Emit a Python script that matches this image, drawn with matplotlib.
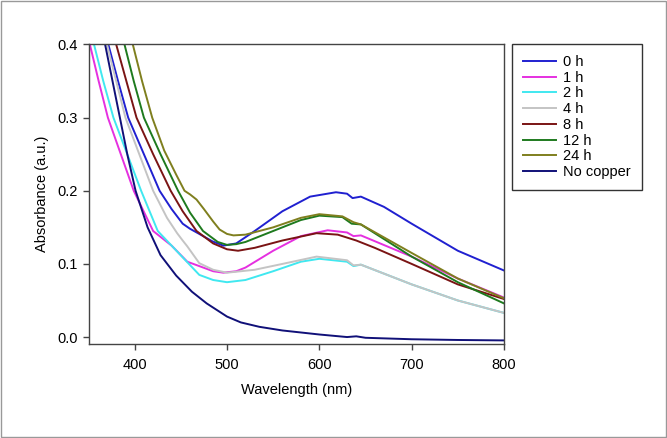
import matplotlib.pyplot as plt
from matplotlib.patches import Rectangle

plt.rcParams['font.family'] = ['Liberation Sans', 'DejaVu Sans']

# wavelength (nm) and absorbance
wl_0h = [366, 371.5, 382, 393, 410, 427, 440, 452, 460, 470, 484, 496, 510, 530, 560, 590, 618, 630, 636, 645, 670, 700, 750, 800]
ab_0h = [0.42, 0.40, 0.35, 0.30, 0.25, 0.20, 0.175, 0.155, 0.148, 0.141, 0.131, 0.125, 0.128, 0.145, 0.172, 0.192, 0.198, 0.196, 0.190, 0.192, 0.178, 0.155, 0.118, 0.091]

wl_1h = [348, 351.5, 361, 371, 385, 399, 420, 440, 457, 470, 485, 496, 510, 520, 550, 580, 609, 630, 637, 645, 700, 750, 800]
ab_1h = [0.42, 0.40, 0.35, 0.30, 0.25, 0.20, 0.145, 0.125, 0.103, 0.097, 0.090, 0.088, 0.090, 0.095, 0.118, 0.138, 0.146, 0.143, 0.138, 0.139, 0.110, 0.080, 0.054]

wl_2h = [352, 356, 366, 377, 392, 407, 425, 440, 455, 470, 485, 500, 520, 550, 580, 600, 630, 637, 645, 700, 750, 800]
ab_2h = [0.42, 0.40, 0.35, 0.30, 0.25, 0.20, 0.145, 0.125, 0.105, 0.085, 0.078, 0.075, 0.078, 0.090, 0.103, 0.107, 0.103, 0.097, 0.099, 0.072, 0.050, 0.033]

wl_4h = [366, 370, 380, 390, 405, 420, 435, 446, 452, 457, 470, 485, 500, 530, 560, 597, 630, 637, 645, 700, 750, 800]
ab_4h = [0.42, 0.40, 0.35, 0.30, 0.25, 0.20, 0.163, 0.142, 0.132, 0.124, 0.101, 0.092, 0.088, 0.092, 0.100, 0.110, 0.105, 0.098, 0.099, 0.072, 0.050, 0.033]

wl_8h = [376, 380, 391, 402, 420, 439, 452, 467, 485, 500, 512, 530, 560, 597, 620, 640, 660, 700, 750, 800]
ab_8h = [0.42, 0.40, 0.35, 0.30, 0.25, 0.20, 0.172, 0.145, 0.128, 0.120, 0.118, 0.122, 0.132, 0.142, 0.140, 0.132, 0.122, 0.100, 0.072, 0.052]

wl_12h = [385, 389, 399, 410, 428, 447, 460, 474, 490, 500, 510, 520, 550, 580, 600, 625, 635, 645, 700, 750, 800]
ab_12h = [0.42, 0.40, 0.35, 0.30, 0.25, 0.20, 0.170, 0.145, 0.130, 0.126, 0.127, 0.130, 0.145, 0.160, 0.166, 0.164, 0.155, 0.154, 0.110, 0.075, 0.046]

wl_24h = [394, 398, 408, 419, 432, 445, 454, 460, 467, 475, 485, 492, 500, 507, 520, 550, 580, 600, 625, 637, 645, 700, 750, 800]
ab_24h = [0.42, 0.40, 0.35, 0.30, 0.255, 0.222, 0.200, 0.195, 0.188, 0.175, 0.158, 0.147, 0.141, 0.139, 0.140, 0.150, 0.163, 0.168, 0.165, 0.157, 0.154, 0.115, 0.080, 0.053]

wl_nocu = [364, 368, 376, 384, 392, 401, 414, 428, 445, 462, 478, 500, 515, 535, 560, 600, 630, 640, 650, 700, 750, 800]
ab_nocu = [0.42, 0.40, 0.35, 0.30, 0.25, 0.20, 0.150, 0.112, 0.084, 0.062, 0.046, 0.028, 0.020, 0.014, 0.009, 0.0035, 0.000, 0.001, -0.001, -0.003, -0.004, -0.0046]

series = [
    ("0 h", wl_0h, ab_0h, "#2020d0"),
    ("1 h", wl_1h, ab_1h, "#e530e0"),
    ("2 h", wl_2h, ab_2h, "#40e8f0"),
    ("4 h", wl_4h, ab_4h, "#c4c4c4"),
    ("8 h", wl_8h, ab_8h, "#7a1414"),
    ("12 h", wl_12h, ab_12h, "#1e7a1e"),
    ("24 h", wl_24h, ab_24h, "#7f7f1e"),
    ("No copper", wl_nocu, ab_nocu, "#101078"),
]

fig = plt.figure(figsize=(6.67, 4.38), dpi=100)
ax = fig.add_axes([88.5 / 667, 1 - 344 / 438, (504 - 88.5) / 667, (344 - 44.5) / 438])

for name, x, y, c in series:
    ax.plot(x, y, color=c, lw=1.4, label=name)

ax.set_xlim(350, 800)
ax.set_ylim(-0.0095, 0.4)
ax.set_xticks([400, 500, 600, 700, 800])
ax.set_yticks([0.0, 0.1, 0.2, 0.3, 0.4])
ax.set_yticklabels(["0.0", "0.1", "0.2", "0.3", "0.4"])
ax.tick_params(direction="out", length=4, width=1, labelsize=10.5, color="#444444")
ax.tick_params(axis="x", pad=6)
for s in ax.spines.values():
    s.set_color("#444444")
    s.set_linewidth(1)
ax.set_xlabel("Wavelength (nm)", fontsize=10.5, labelpad=8)
ax.set_ylabel("Absorbance (a.u.)", fontsize=10.5, labelpad=6)

leg = ax.legend(loc="upper left", bbox_to_anchor=(512 / 667, 1 - 44 / 438),
                bbox_transform=fig.transFigure, fontsize=10.5, handlelength=2.3,
                labelspacing=0.12, borderpad=0.75, fancybox=False, framealpha=1,
                borderaxespad=0, handletextpad=0.45)
leg.get_frame().set_edgecolor("#333333")
leg.get_frame().set_linewidth(1)

fig.patches.append(Rectangle((0.001, 0.002), 0.997, 0.995, transform=fig.transFigure,
                             fill=False, edgecolor="#999999", lw=1))

plt.savefig("out.png", dpi=100)
